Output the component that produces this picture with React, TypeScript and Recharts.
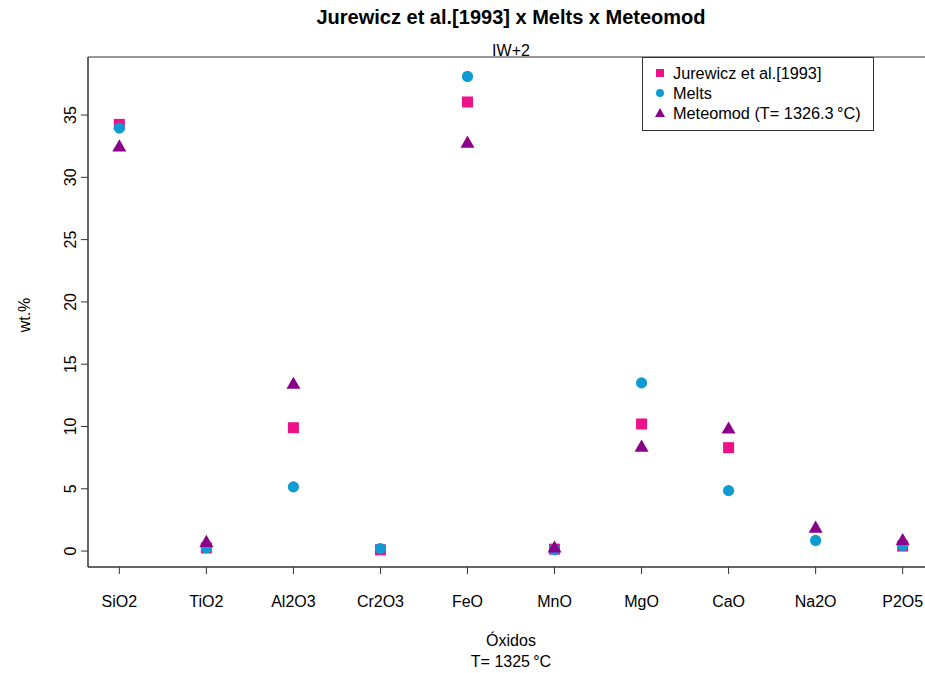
import { ReferenceArea, Scatter, ScatterChart, XAxis, YAxis } from "recharts";

const oxides = ["SiO2", "TiO2", "Al2O3", "Cr2O3", "FeO", "MnO", "MgO", "CaO", "Na2O", "P2O5"];
const jurewicz: (number | null)[] = [34.25, 0.25, 9.9, 0.1, 36.05, 0.15, 10.2, 8.3, null, 0.4];
const melts: (number | null)[] = [33.95, 0.25, 5.15, 0.2, 38.1, 0.1, 13.5, 4.85, 0.85, 0.45];
const meteomod: (number | null)[] = [32.4, 0.65, 13.35, null, 32.7, 0.2, 8.3, 9.75, 1.8, 0.8];
const yTicks = [0, 5, 10, 15, 20, 25, 30, 35];

const PINK = "#EE1289";
const BLUE = "#0F9BD2";
const PURPLE = "#8B008B";
const INK = "#333";
const FONT = "'Liberation Sans', Arial, sans-serif";

const toPoints = (vals: (number | null)[]) =>
  vals
    .map((v, i) => (v == null ? null : { x: i + 1, y: v, name: oxides[i] }))
    .filter((p) => p !== null);

const Square = ({ cx, cy }: any) => (
  <rect x={cx - 5.5} y={cy - 5.5} width={11} height={11} fill={PINK} />
);
const Dot = ({ cx, cy }: any) => <circle cx={cx} cy={cy} r={5.6} fill={BLUE} />;
const Tri = ({ cx, cy }: any) => (
  <polygon
    points={`${cx},${cy - 8.1} ${cx - 7},${cy + 4} ${cx + 7},${cy + 4}`}
    fill={PURPLE}
  />
);

const XTick = ({ x, y, payload }: any) => (
  <text x={x} y={y} dy={31} textAnchor="middle" fontSize={16} fill="#000" fontFamily={FONT}>
    {oxides[payload.value - 1]}
  </text>
);

const YTick = ({ x, y, payload }: any) => (
  <text
    transform={`translate(${x - 3},${y}) rotate(-90)`}
    textAnchor="middle"
    fontSize={16}
    fill="#000"
    fontFamily={FONT}
  >
    {payload.value}
  </text>
);

const legendItems = [
  { label: "Jurewicz et al.[1993]", mark: <rect x={1} y={1} width={8} height={8} fill={PINK} /> },
  { label: "Melts", mark: <circle cx={5} cy={5} r={4} fill={BLUE} /> },
  { label: "Meteomod (T= 1326.3\u2009°C)", mark: <polygon points="5,0 0,9 10,9" fill={PURPLE} /> },
];

export default function App() {
  return (
    <div
      style={{
        position: "fixed",
        left: 0,
        top: 0,
        width: 925,
        height: 673,
        overflow: "hidden",
        background: "#fff",
        fontFamily: FONT,
        color: "#000",
      }}
    >
      <ScatterChart width={960} height={673} margin={{ top: 57, right: 26, bottom: 66, left: 28 }}>
        <XAxis
          type="number"
          dataKey="x"
          domain={[0.64, 10.36]}
          ticks={[1, 2, 3, 4, 5, 6, 7, 8, 9, 10]}
          allowDataOverflow
          height={40}
          tickSize={7}
          tick={<XTick />}
          stroke={INK}
        />
        <YAxis
          type="number"
          dataKey="y"
          domain={[-1.28, 39.66]}
          ticks={yTicks}
          allowDataOverflow
          width={60}
          tickSize={7}
          tick={<YTick />}
          stroke={INK}
        />
        <ReferenceArea x1={0.64} x2={10.36} y1={-1.28} y2={39.66} fill="none" stroke={INK} strokeWidth={1} />
        <Scatter data={toPoints(jurewicz)} shape={<Square />} isAnimationActive={false} />
        <Scatter data={toPoints(melts)} shape={<Dot />} isAnimationActive={false} />
        <Scatter data={toPoints(meteomod)} shape={<Tri />} isAnimationActive={false} />
      </ScatterChart>

      <div style={{ position: "absolute", left: 0, width: 1022, top: 6, textAlign: "center", fontSize: 20, fontWeight: "bold" }}>
        Jurewicz et al.[1993] x Melts x Meteomod
      </div>
      <div style={{ position: "absolute", left: 0, width: 1022, top: 42, textAlign: "center", fontSize: 16 }}>
        IW+2
      </div>
      <div style={{ position: "absolute", left: 0, width: 1022, top: 630, textAlign: "center", fontSize: 16, lineHeight: "21px" }}>
        Óxidos
        <br />
        T= 1325{"\u2009"}°C
      </div>
      <div
        style={{
          position: "absolute",
          left: 25,
          top: 315,
          fontSize: 16,
          transform: "translate(-50%, -50%) rotate(-90deg)",
          whiteSpace: "nowrap",
        }}
      >
        wt.%
      </div>

      <div
        style={{
          position: "absolute",
          left: 642,
          top: 57,
          width: 232,
          height: 74,
          border: `1px solid ${INK}`,
          background: "#fff",
          boxSizing: "border-box",
          paddingTop: 5,
        }}
      >
        {legendItems.map((it) => (
          <div key={it.label} style={{ display: "flex", alignItems: "center", height: 20, fontSize: 16.3 }}>
            <svg width={10} height={10} style={{ marginLeft: 12, marginRight: 8 }}>
              {it.mark}
            </svg>
            <span>{it.label}</span>
          </div>
        ))}
      </div>
    </div>
  );
}
